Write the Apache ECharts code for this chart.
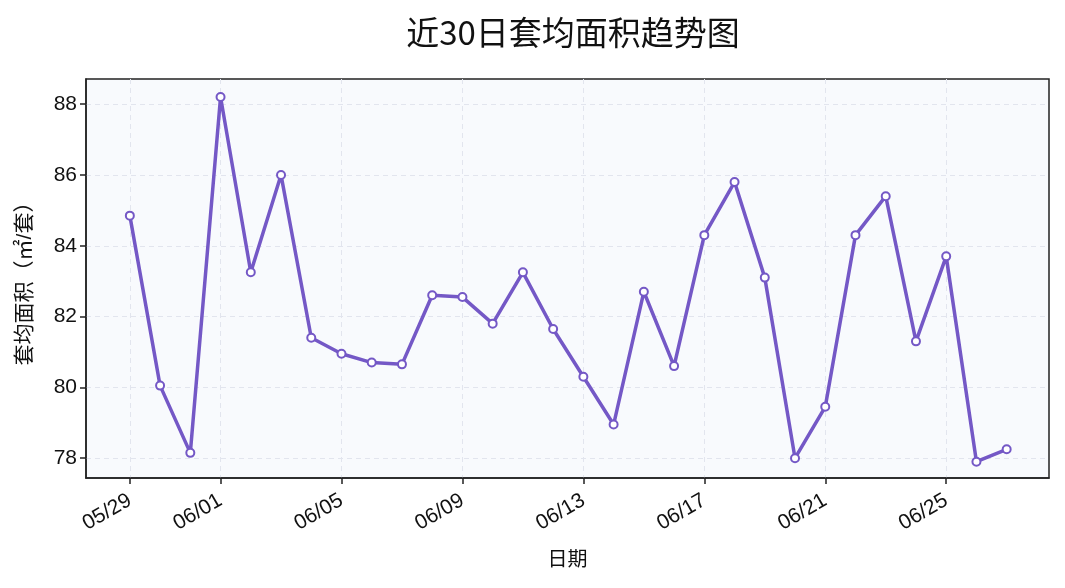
<!DOCTYPE html>
<html><head><meta charset="utf-8">
<script src="https://cdn.jsdelivr.net/npm/echarts@6/dist/echarts.min.js"></script>
<style>html,body{margin:0;padding:0;background:#fff}#c{width:1065px;height:588px}</style>
</head><body><div id="c"></div>
<script>
const dates = ['05/29','05/30','05/31','06/01','06/02','06/03','06/04','06/05','06/06','06/07','06/08','06/09','06/10','06/11','06/12','06/13','06/14','06/15','06/16','06/17','06/18','06/19','06/20','06/21','06/22','06/23','06/24','06/25','06/26','06/27'];
const avgArea = [84.85,80.05,78.15,88.2,83.25,86.0,81.4,80.95,80.7,80.65,82.6,82.55,81.8,83.25,81.65,80.3,78.95,82.7,80.6,84.3,85.8,83.1,78.0,79.45,84.3,85.4,81.3,83.7,77.9,78.25];
const xTickIdx = [0,3,7,11,15,19,23,27];
const yTicks = [78,80,82,84,86,88];
const FONT = '"Liberation Sans","Noto Sans CJK SC",sans-serif';
const chart = echarts.init(document.getElementById('c'));
chart.setOption({
  animation:false,
  title:{text:'近30日套均面积趋势图',left:568,textAlign:'center',top:11,textStyle:{fontFamily:'"Noto Sans CJK SC",sans-serif',fontSize:33,fontWeight:'normal',color:'#111'}},
  grid:{left:86,right:16,top:79,bottom:110,show:true,backgroundColor:'#f8fafd',borderColor:'#222',borderWidth:1.5},
  xAxis:{type:'value',min:-1.45,max:30.4,
    name:'日期',nameLocation:'middle',nameGap:72,nameTextStyle:{fontFamily:FONT,fontSize:20,color:'#111'},
    axisLine:{show:true,onZero:false,lineStyle:{color:'#222',width:1.5}},
    axisTick:{show:true,length:6,customValues:xTickIdx,lineStyle:{color:'#222',width:1.5}},
    axisLabel:{customValues:xTickIdx,rotate:30,fontFamily:FONT,fontSize:21,color:'#111',margin:21,formatter:v=>dates[Math.round(v)]},
    splitLine:{show:true,lineStyle:{type:[5,4],color:'#e2e5ee',width:1}}
  },
  yAxis:{type:'value',min:77.44,max:88.71,
    name:'套均面积（㎡/套）',nameLocation:'middle',nameGap:50,nameTextStyle:{fontFamily:FONT,fontSize:21,color:'#111'},
    axisLine:{show:true,onZero:false,lineStyle:{color:'#222',width:1.5}},
    axisTick:{show:true,length:6,customValues:yTicks,lineStyle:{color:'#222',width:1.5}},
    axisLabel:{customValues:yTicks,fontFamily:FONT,fontSize:21,color:'#111',margin:9},
    splitLine:{show:true,lineStyle:{type:[5,4],color:'#e2e5ee',width:1}}
  },
  series:[{type:'line',data:avgArea.map((v,i)=>[i,v]),symbol:'circle',symbolSize:8,
    lineStyle:{color:'#7458c6',width:3.5},
    itemStyle:{color:'#ffffff',borderColor:'#7458c6',borderWidth:2}}]
});
</script></body></html>
